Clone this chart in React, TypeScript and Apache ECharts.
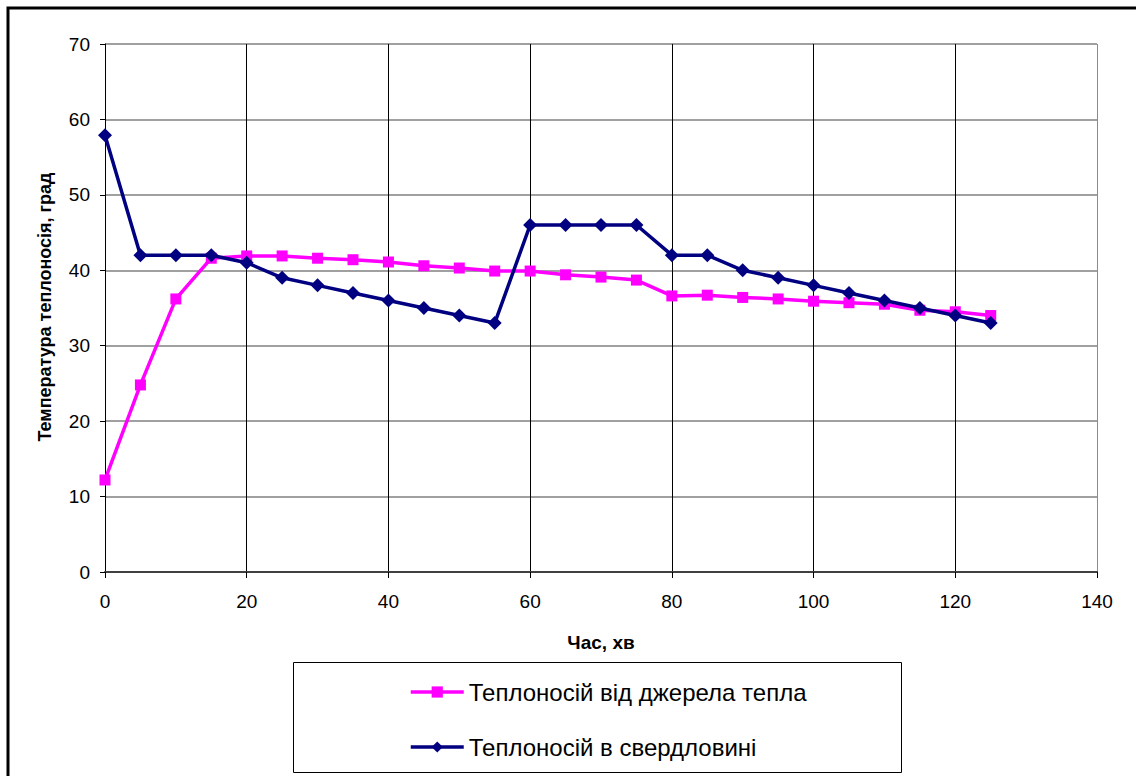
import React, { useEffect, useRef } from "react";
import * as echarts from "echarts";

const times = [0, 5, 10, 15, 20, 25, 30, 35, 40, 45, 50, 55, 60, 65, 70, 75, 80, 85, 90, 95, 100, 105, 110, 115, 120, 125];
const sourceTemps = [12.2, 24.8, 36.2, 41.6, 41.9, 41.9, 41.6, 41.4, 41.1, 40.6, 40.3, 39.9, 39.9, 39.4, 39.1, 38.7, 36.6, 36.7, 36.4, 36.2, 35.9, 35.7, 35.5, 34.7, 34.5, 34.0];
const wellTemps = [57.9, 42, 42, 42, 41, 39, 38, 37, 36, 35, 34, 33, 46, 46, 46, 46, 42, 42, 40, 39, 38, 37, 36, 35, 34, 33];
const seriesNames = ["Теплоносій від джерела тепла", "Теплоносій в свердловині"];
const xTicks = { min: 0, max: 140, interval: 20 };
const yTicks = { min: 0, max: 70, interval: 10 };

const font = "Arial, 'Liberation Sans', sans-serif";

export default function App() {
  const ref = useRef<HTMLDivElement>(null);
  useEffect(() => {
    document.body.style.margin = "0";
    if (!ref.current) return;
    const chart = echarts.init(ref.current, null, { renderer: "svg" });
    const xSplitColors = ["#000", "#000", "#000", "#000", "#000", "#000", "#000", "#8c8c8c"];
    chart.setOption({
      animation: false,
      backgroundColor: "#fff",
      grid: { left: 105, top: 44, right: 39, bottom: 204, containLabel: false },
      xAxis: {
        type: "value",
        min: xTicks.min,
        max: xTicks.max,
        interval: xTicks.interval,
        axisLine: { show: true, onZero: false, lineStyle: { color: "#404040", width: 2 } },
        axisTick: { show: true, inside: false, length: 6, lineStyle: { color: "#000", width: 1 } },
        axisLabel: { color: "#000", fontSize: 19, fontFamily: font, margin: 20 },
        splitLine: { show: true, lineStyle: { color: xSplitColors, width: 1 } },
      },
      yAxis: {
        type: "value",
        min: yTicks.min,
        max: yTicks.max,
        interval: yTicks.interval,
        axisLine: { show: true, lineStyle: { color: "#000", width: 1 } },
        axisTick: { show: true, inside: false, length: 5, lineStyle: { color: "#000", width: 1 } },
        axisLabel: { color: "#000", fontSize: 19, fontFamily: font, margin: 15 },
        splitLine: { show: true, lineStyle: { color: "#808080", width: 1.5 } },
      },
      legend: {
        orient: "vertical",
        left: 404,
        top: 675,
        itemWidth: 53,
        itemHeight: 14,
        itemGap: 31,
        lineStyle: { width: 3.5 },
        textStyle: { color: "#000", fontSize: 24, fontFamily: font, lineHeight: 24, padding: [0, 0, 0, 0] },
        data: seriesNames,
      },
      graphic: [
        {
          type: "rect",
          shape: { x: 8, y: 8, width: 1140, height: 780 },
          style: { fill: "none", stroke: "#000", lineWidth: 3 },
          silent: true,
        },
        {
          type: "rect",
          shape: { x: 293.5, y: 662.5, width: 608, height: 110 },
          style: { fill: "none", stroke: "#000", lineWidth: 1 },
          silent: true,
          z: -1,
        },
        {
          type: "text",
          x: 45,
          y: 307,
          rotation: Math.PI / 2,
          style: {
            text: "Температура теплоносія, град",
            fontSize: 18,
            fontWeight: "bold",
            fontFamily: font,
            fill: "#000",
            align: "center",
            verticalAlign: "middle",
          },
        },
        {
          type: "text",
          x: 601,
          y: 642,
          style: {
            text: "Час, хв",
            fontSize: 19,
            fontWeight: "bold",
            fontFamily: font,
            fill: "#000",
            align: "center",
            verticalAlign: "middle",
          },
        },
      ],
      series: [
        {
          name: seriesNames[0],
          type: "line",
          data: times.map((t, i) => [t, sourceTemps[i]]),
          symbol: "rect",
          symbolSize: 11,
          lineStyle: { color: "#FF00FF", width: 3.5 },
          itemStyle: { color: "#FF00FF" },
          z: 2,
        },
        {
          name: seriesNames[1],
          type: "line",
          data: times.map((t, i) => [t, wellTemps[i]]),
          symbol: "diamond",
          symbolSize: 14,
          lineStyle: { color: "#000080", width: 3.5 },
          itemStyle: { color: "#000080" },
          z: 3,
        },
      ],
    });
    return () => chart.dispose();
  }, []);
  return <div ref={ref} style={{ width: 1136, height: 776 }} />;
}
